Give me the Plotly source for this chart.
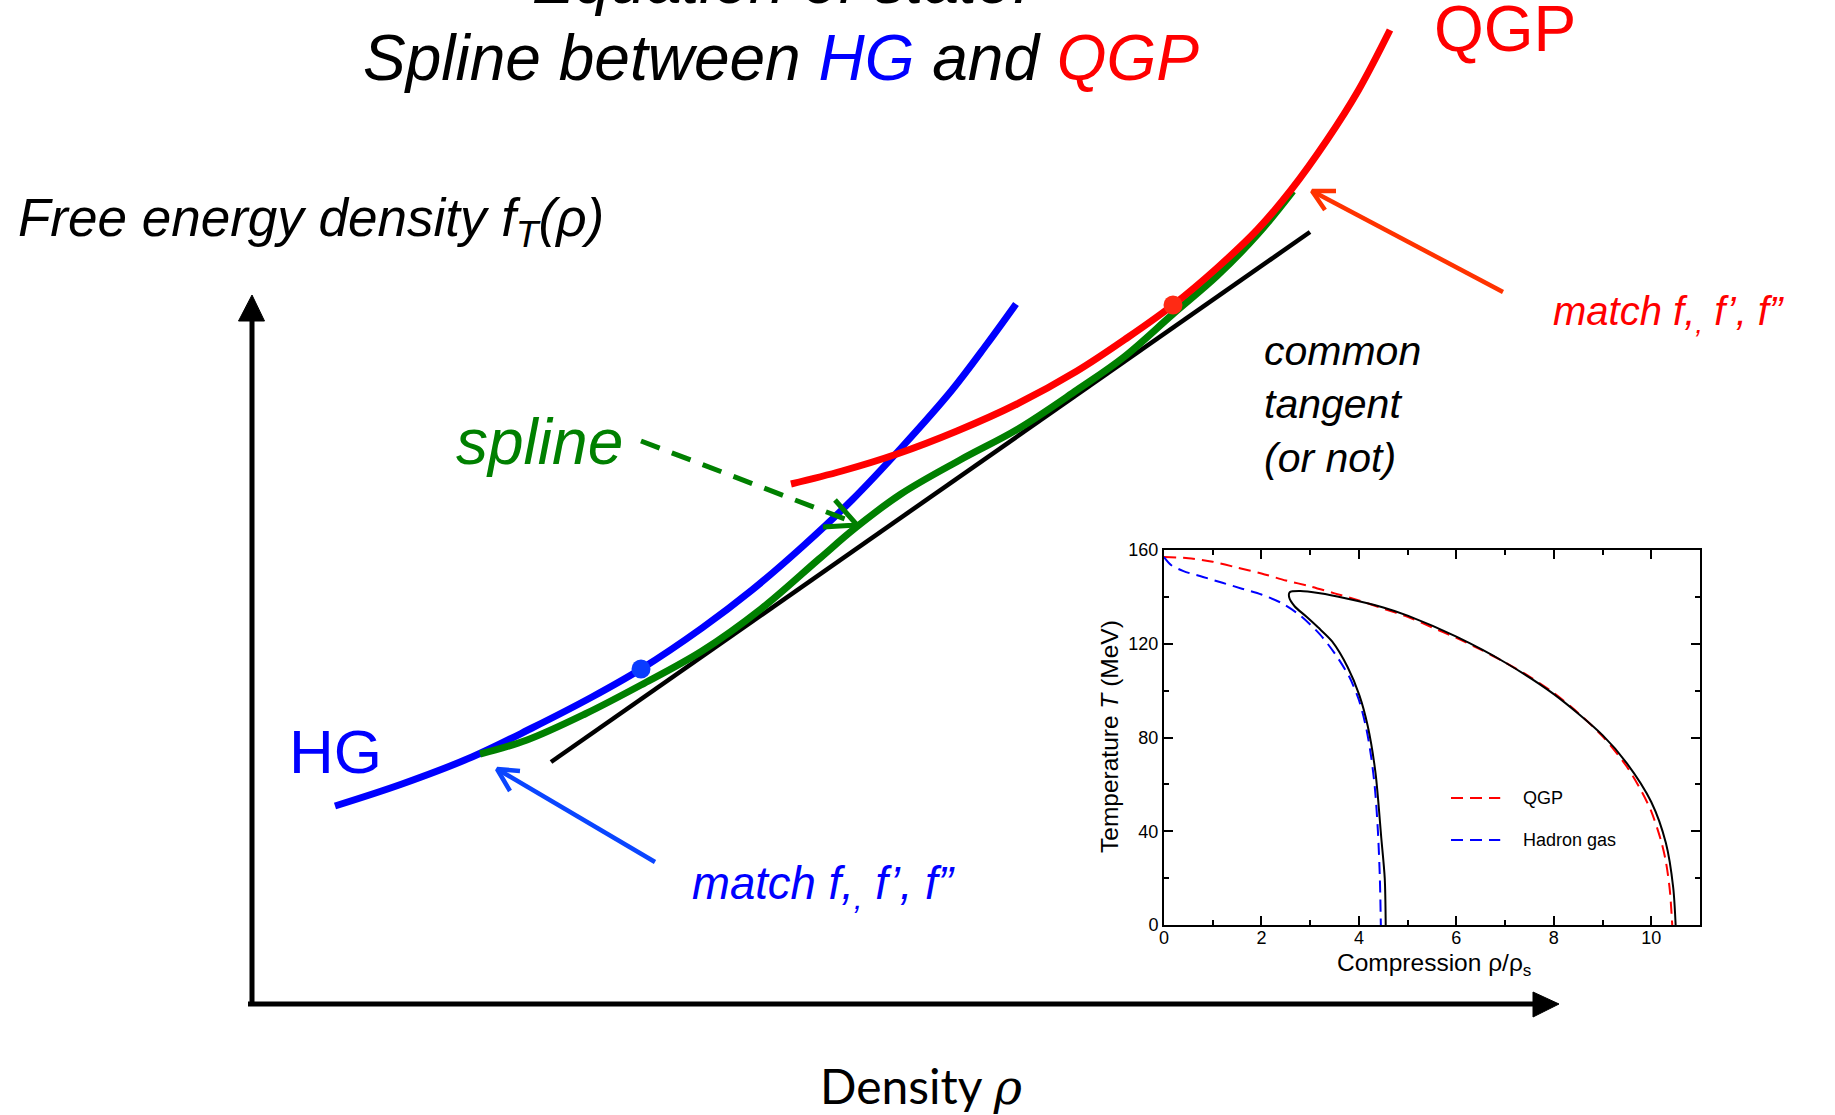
import plotly.graph_objects as go

# ---------------- main schematic: free energy density vs density ----------------
# hadron gas branch
hg_rho = [0.83, 1.5, 2.2, 2.8, 3.4, 3.89, 4.5, 5.0, 5.5, 6.0, 6.5, 7.0, 7.35, 7.64]
hg_f = [1.98, 2.20, 2.47, 2.76, 3.07, 3.35, 3.76, 4.14, 4.57, 5.04, 5.57, 6.14, 6.60, 7.00]

# quark-gluon plasma branch
qgp_rho = [5.39, 5.9, 6.45, 7.05, 7.65, 8.25, 8.75, 9.21, 9.65, 10.05, 10.39, 10.75, 11.06, 11.38]
qgp_f = [5.20, 5.33, 5.50, 5.73, 6.00, 6.33, 6.66, 6.99, 7.36, 7.74, 8.14, 8.64, 9.13, 9.74]

# interpolating spline between the two branches
spline_rho = [2.28, 2.75, 3.33, 3.89, 4.50, 5.09, 5.67, 6.02, 6.49, 7.08, 7.66, 8.25, 8.72, 9.21, 9.65, 10.06, 10.41]
spline_f = [2.50, 2.64, 2.90, 3.19, 3.53, 3.95, 4.45, 4.75, 5.10, 5.44, 5.75, 6.14, 6.47, 6.90, 7.28, 7.70, 8.13]

# common tangent line
tangent_rho = [2.99, 10.58]
tangent_f = [2.42, 7.72]

# matching points
hg_match_rho, hg_match_f = [3.89], [3.35]
qgp_match_rho, qgp_match_f = [9.21], [6.99]

# pointer arrows (shaft and open head)
hg_arrow_shaft = ([4.03, 2.45], [1.42, 2.35])
hg_arrow_head = ([2.68, 2.45, 2.58], [2.33, 2.35, 2.13])
qgp_arrow_shaft = ([12.51, 10.60], [7.12, 8.13])
qgp_arrow_head = ([10.84, 10.60, 10.73], [8.13, 8.13, 7.94])
spline_arrow_shaft = ([3.89, 5.98], [5.63, 4.83])
spline_arrow_head = ([5.83, 6.05, 5.71], [5.04, 4.79, 4.77])

# coordinate axes with filled arrow tips
yaxis_line = ([0, 0], [-0.02, 6.86])
yaxis_tip = ([-0.135, 0.125, 0.0, -0.135], [6.83, 6.83, 7.09, 6.83])
xaxis_line = ([-0.04, 12.83], [0, 0])
xaxis_tip = ([12.81, 12.81, 13.07, 12.81], [0.12, -0.13, 0.0, 0.12])

# ---------------- inset: T vs compression ----------------
qgp_comp = [0, 0.5, 1, 1.5, 2, 2.5, 3, 3.5, 4, 4.5, 5, 5.5, 6, 6.5, 7, 7.5, 8, 8.5, 9, 9.5, 9.8, 10, 10.2, 10.3, 10.38, 10.43]
qgp_T = [157, 156.5, 155, 152.5, 150, 147, 144.5, 141.5, 138.5, 135, 131.5, 127, 122.5, 117.5, 112, 106, 99, 90.5, 80.5, 67.5, 57, 48.5, 36, 27, 15, 0]

hadron_comp = [0, 0.15, 0.4, 0.8, 1.2, 1.6, 2, 2.4, 2.8, 3.2, 3.5, 3.8, 4.0, 4.15, 4.25, 4.33, 4.39, 4.43, 4.45]
hadron_T = [157, 153.5, 151, 148.5, 146, 143.5, 141, 137.5, 132, 124, 116, 106, 96, 84, 72, 58, 40, 20, 0]

boundary_comp = [4.55, 4.53, 4.46, 4.34, 4.18, 4.01, 3.77, 3.45, 3.16, 2.92, 2.68, 2.57, 2.58, 2.80, 3.2, 3.7, 4.5, 5, 6, 7, 8, 9, 9.5, 10, 10.3, 10.45, 10.5]
boundary_T = [0, 20, 37, 65, 85, 98, 110, 121, 127, 131.6, 136, 139.7, 142, 142.5, 141.5, 139.5, 135.5, 132, 123, 112, 98.5, 81, 69, 52.5, 35, 16, 0]

legend_names = ["QGP", "Hadron gas"]
legend_colors = ["#ff0000", "#0000ff"]
legend_rows = [54.2, 36.3]

FONT = "Liberation Sans, Arial, Helvetica, sans-serif"

fig = go.Figure()


def main_line(x, y, color, width, dash="solid", shape="linear"):
    fig.add_trace(go.Scatter(x=x, y=y, mode="lines",
                             line=dict(color=color, width=width, dash=dash, shape=shape, smoothing=1.0),
                             showlegend=False, hoverinfo="skip", xaxis="x", yaxis="y"))


# axes
main_line(*yaxis_line, "black", 5)
main_line(*xaxis_line, "black", 5)
for tx, ty in (yaxis_tip, xaxis_tip):
    fig.add_trace(go.Scatter(x=tx, y=ty, mode="lines", fill="toself", fillcolor="black",
                             line=dict(color="black", width=1), showlegend=False, hoverinfo="skip"))

# curves
main_line(tangent_rho, tangent_f, "black", 4.5)
main_line(hg_rho, hg_f, "#0000ff", 7, shape="spline")
main_line(spline_rho, spline_f, "#008000", 7, shape="spline")
main_line(qgp_rho, qgp_f, "#ff0000", 7, shape="spline")

# arrows
main_line(*hg_arrow_shaft, "#0a45ff", 4.5)
main_line(*hg_arrow_head, "#0a45ff", 4.5)
main_line(*qgp_arrow_shaft, "#ff3300", 4.5)
main_line(*qgp_arrow_head, "#ff3300", 4.5)
main_line(*spline_arrow_shaft, "#008000", 5, dash="20px,13px")
main_line(*spline_arrow_head, "#008000", 5)

# matching points
fig.add_trace(go.Scatter(x=hg_match_rho, y=hg_match_f, mode="markers",
                         marker=dict(color="#0a3cff", size=19), showlegend=False, hoverinfo="skip"))
fig.add_trace(go.Scatter(x=qgp_match_rho, y=qgp_match_f, mode="markers",
                         marker=dict(color="#ff2a14", size=19), showlegend=False, hoverinfo="skip"))


# inset curves
def inset_line(x, y, color, width, dash="solid", shape="linear"):
    fig.add_trace(go.Scatter(x=x, y=y, mode="lines",
                             line=dict(color=color, width=width, dash=dash, shape=shape, smoothing=0.8),
                             showlegend=False, hoverinfo="skip", xaxis="x2", yaxis="y2"))


inset_line(qgp_comp, qgp_T, "#ff0000", 2, dash="12px,7px", shape="spline")
inset_line(hadron_comp, hadron_T, "#0000ff", 2, dash="12px,7px", shape="spline")
inset_line(boundary_comp, boundary_T, "black", 2, shape="spline")

# inset legend
for name, color, row in zip(legend_names, legend_colors, legend_rows):
    inset_line([5.89, 6.90], [row, row], color, 2, dash="12px,7px")

annotations = []


def text(x, y, s, size, color="black", italic=False, xanchor="center", family=FONT,
         textangle=0, align="center"):
    if italic:
        s = "<i>" + s + "</i>"
    annotations.append(dict(x=x / 1835, y=1 - y / 1115, xref="paper", yref="paper", text=s,
                            showarrow=False, xanchor=xanchor, yanchor="middle", align=align,
                            textangle=textangle, font=dict(family=family, size=size, color=color)))


# title
text(781, -19, "Equation of state:", 64, italic=True)
text(781, 58, 'Spline between <span style="color:#0000ff">HG</span> and '
              '<span style="color:#ff0000">QGP</span>', 64, italic=True)

# labels of the schematic
text(16, 222, "Free energy density f<sub>T</sub>(ρ)", 53, italic=True, xanchor="left")
text(921, 1086, 'Density <i><span style="font-family:DejaVu Serif">ρ</span></i>', 48, family="Lato, sans-serif")
text(335, 751, "HG", 62, color="#0000ff")
text(1505, 29, "QGP", 64, color="#ff0000")
text(539, 442, "spline", 64, color="#008000", italic=True)
text(1551, 314, "match f,<sub>,</sub> f’, f”", 40, color="#ff0000", italic=True, xanchor="left")
text(690, 887, "match f,<sub>,</sub> f’, f”", 45.5, color="#0000ff", italic=True, xanchor="left")
text(1262, 404, "common<br>tangent<br>(or not)", 41, italic=True, xanchor="left", align="left")

# inset axis titles and legend text
text(1109, 737, "Temperature <i>T</i> (MeV)", 24.5, textangle=-90)
text(1434, 964, "Compression ρ/ρ<sub>s</sub>", 24.5)
for name, row in zip(legend_names, legend_rows):
    annotations.append(dict(x=7.33, y=row, xref="x2", yref="y2", text=name, showarrow=False,
                            xanchor="left", yanchor="middle", font=dict(family=FONT, size=18, color="black")))

inset_axis = dict(showline=True, linewidth=2, linecolor="black", mirror="allticks", ticks="inside",
                  ticklen=9, tickwidth=1.5, tickcolor="black", showgrid=False, zeroline=False,
                  tickfont=dict(family=FONT, size=18, color="black"), automargin=False)

fig.update_layout(
    width=1835, height=1115, margin=dict(l=0, r=0, t=0, b=0),
    paper_bgcolor="white", plot_bgcolor="white", showlegend=False,
    xaxis=dict(range=[-2.52, 15.83], visible=False, domain=[0, 1]),
    yaxis=dict(range=[-1.11, 10.04], visible=False, domain=[0, 1]),
    xaxis2=dict(inset_axis, domain=[1164 / 1835, 1700 / 1835], anchor="y2", range=[0, 11],
                tickvals=[0, 2, 4, 6, 8, 10], ticklabelstandoff=-5,
                minor=dict(dtick=1, ticks="inside", ticklen=5, tickcolor="black")),
    yaxis2=dict(inset_axis, domain=[1 - 925 / 1115, 1 - 550 / 1115], anchor="x2", range=[0, 160],
                tickvals=[0, 40, 80, 120, 160],
                minor=dict(dtick=20, ticks="inside", ticklen=5, tickcolor="black")),
    annotations=annotations,
)

fig.write_html("out.html")
